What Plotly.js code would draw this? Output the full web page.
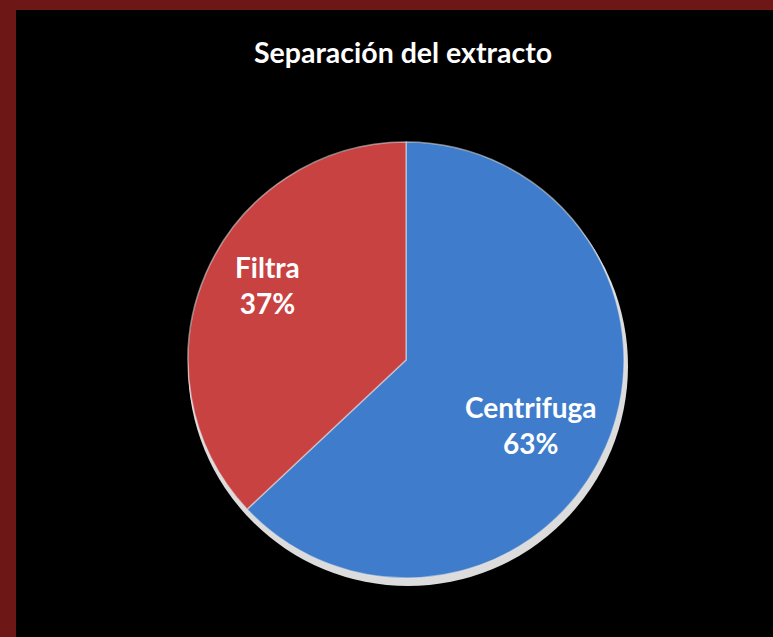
<!DOCTYPE html>
<html>
<head>
<meta charset="utf-8">
<script src="https://cdn.plot.ly/plotly-3.0.1.min.js"></script>
<style>
  html, body { margin: 0; padding: 0; background: #000; }
  #chart { width: 773px; height: 637px; }
</style>
</head>
<body>
<div id="chart"></div>
<script>
const categories = ["Centrifuga", "Filtra"];
const values = [63, 37];
const sliceColors = ["#3f7dcc", "#c94242"];
const chartTitle = "Separación del extracto";

const W = 773, H = 637;
const cx = 406, cy = 360, r = 218;
// label placement per slice: fraction of radius, extra clockwise angle (deg)
const labelPlacement = [{ rf: 0.645, da: 4 }, { rf: 0.72, da: 5 }];
const labelFont = { family: "Lato, 'Open Sans', sans-serif", size: 28, color: "#ffffff" };

const trace = {
  type: "pie",
  labels: categories,
  values: values,
  sort: false,
  direction: "clockwise",
  rotation: 0,
  marker: { colors: sliceColors, line: { color: "rgba(230,230,230,0.55)", width: 1.5 } },
  textinfo: "none",
  hoverinfo: "label+percent",
  showlegend: false,
  domain: {
    x: [(cx - r) / W, (cx + r) / W],
    y: [(H - cy - r) / H, (H - cy + r) / H]
  }
};

// label positions derived from the slice angles (clockwise from 12 o'clock)
const total = values.reduce((a, b) => a + b, 0);
let cum = 0;
const annotations = categories.map((c, i) => {
  const p = labelPlacement[i];
  const mid = (cum + values[i] / 2) / total * 2 * Math.PI + p.da * Math.PI / 180;
  cum += values[i];
  const px = cx + Math.sin(mid) * r * p.rf;
  const py = cy - Math.cos(mid) * r * p.rf;
  const pct = Math.round(values[i] / total * 100);
  return {
    xref: "paper", yref: "paper",
    x: px / W, y: 1 - py / H,
    xanchor: "center", yanchor: "middle",
    text: "<b>" + c + "<br>" + pct + "%</b>",
    showarrow: false,
    font: labelFont,
    align: "center"
  };
});

const layout = {
  width: W,
  height: H,
  margin: { l: 0, r: 0, t: 0, b: 0 },
  paper_bgcolor: "#000000",
  plot_bgcolor: "#000000",
  title: {
    text: "<b>" + chartTitle + "</b>",
    x: 403 / W,
    xanchor: "center",
    y: 1 - 53 / H,
    yanchor: "middle",
    font: { family: "Lato, 'Open Sans', sans-serif", size: 28.5, color: "#ffffff" }
  },
  annotations: annotations,
  shapes: [
    { type: "rect", xref: "paper", yref: "paper", x0: 0, x1: 16 / W, y0: 0, y1: 1,
      fillcolor: "#6d1717", line: { width: 0 }, layer: "below" },
    { type: "rect", xref: "paper", yref: "paper", x0: 0, x1: 1, y0: 1 - 10 / H, y1: 1,
      fillcolor: "#6d1717", line: { width: 0 }, layer: "below" },
    { type: "circle", xref: "paper", yref: "paper",
      x0: (cx + 2 - r - 2) / W, x1: (cx + 2 + r + 2) / W,
      y0: (H - (cy + 6) - r - 2) / H, y1: (H - (cy + 6) + r + 2) / H,
      fillcolor: "#dcdcdc", line: { width: 0 }, layer: "below" }
  ]
};

Plotly.newPlot("chart", [trace], layout, { displayModeBar: false, staticPlot: true });
</script>
</body>
</html>
